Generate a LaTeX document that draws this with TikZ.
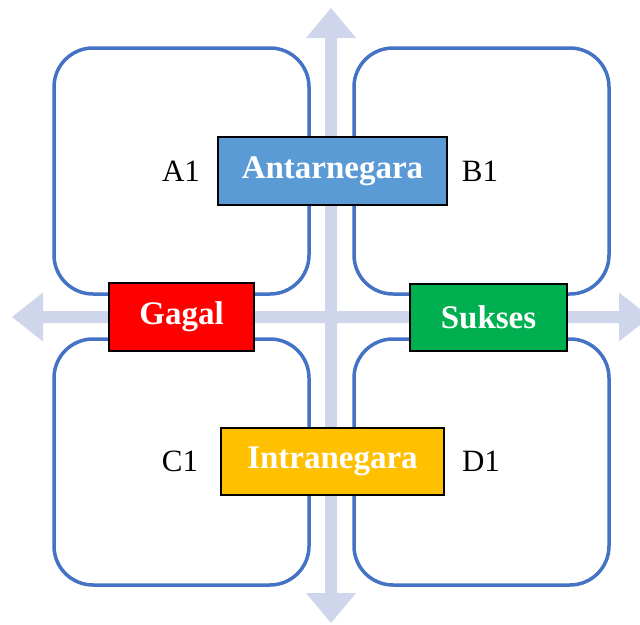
\documentclass[tikz,border=0pt]{standalone}
\usepackage{fontspec}
\setmainfont{Liberation Serif}
\definecolor{quadblue}{HTML}{4472C4}
\definecolor{arrowlav}{HTML}{CFD5EA}
\definecolor{antar}{HTML}{5B9BD5}
\definecolor{gagalred}{HTML}{FF0000}
\definecolor{suksesgreen}{HTML}{00B050}
\definecolor{intraorange}{HTML}{FFC000}
\tikzset{
  quad/.style={draw=quadblue, line width=3.5pt, rounded corners=39pt, fill=none, inner sep=0pt},
  labelbox/.style={draw=black, line width=1.2pt, inner sep=0pt, text=white,
    font=\fontsize{33}{39}\selectfont\bfseries},
  cornerlabel/.style={inner sep=0pt, text=black, font=\fontsize{31}{37}\selectfont},
}
\begin{document}
\begin{tikzpicture}[x=1pt,y=-1pt]
\useasboundingbox (0,0) rectangle (640,624);
\clip (0,0) rectangle (640,624);
% cross arrows
\fill[arrowlav] (331,8) -- (356,38) -- (337,38) -- (337,593) -- (356,593) -- (331,623)
  -- (306,593) -- (325,593) -- (325,38) -- (306,38) -- cycle;
\fill[arrowlav] (12,317) -- (43,292.5) -- (43,311) -- (619,311) -- (619,292.5) -- (650,317)
  -- (619,341.5) -- (619,323) -- (43,323) -- (43,341.5) -- cycle;
% quadrants
\node[quad, minimum width=255pt, minimum height=246pt] (tl) at (181.5,171) {};
\node[quad, minimum width=255pt, minimum height=246pt] (tr) at (481.5,171) {};
\node[quad, minimum width=255pt, minimum height=246pt] (bl) at (181.5,462) {};
\node[quad, minimum width=255pt, minimum height=246pt] (br) at (481.5,462) {};
% boxes
\node[labelbox, fill=antar, minimum width=229pt, minimum height=68pt] (antar) at (332.5,171) {Antarnegara};
\node[labelbox, fill=gagalred, minimum width=145pt, minimum height=68pt] (gagal) at (181.5,317) {Gagal};
\node[labelbox, fill=suksesgreen, minimum width=157pt, minimum height=67pt] (sukses) at (488.5,317.5) {Sukses};
\node[labelbox, fill=intraorange, minimum width=223pt, minimum height=67pt] (intra) at (332.5,461.5) {Intranegara};
% corner labels
\node[cornerlabel] (a1) at (181,171) {A1};
\node[cornerlabel] (b1) at (480,171) {B1};
\node[cornerlabel] (c1) at (180,461) {C1};
\node[cornerlabel] (d1) at (481,461) {D1};
\end{tikzpicture}
\end{document}
